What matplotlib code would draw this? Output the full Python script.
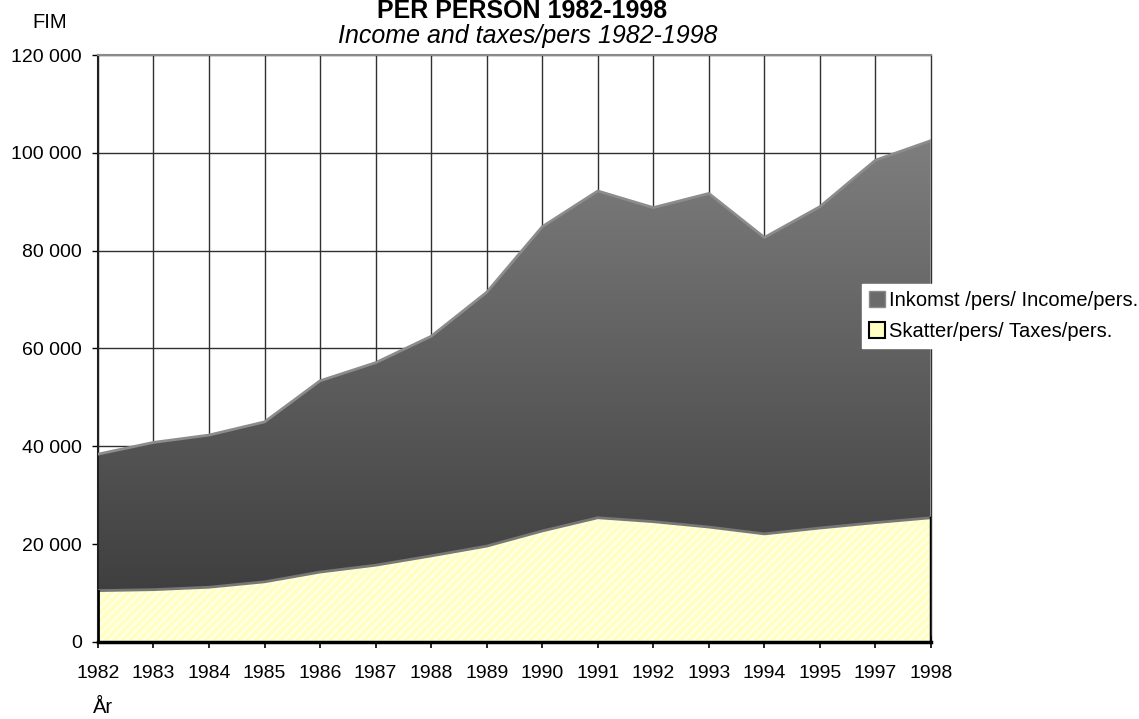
import matplotlib.pyplot as plt
import numpy as np
from matplotlib.colors import LinearSegmentedColormap
from matplotlib.patches import Polygon, Patch

plt.rcParams['font.family'] = ['Liberation Sans', 'DejaVu Sans']

# data
years = ['1982', '1983', '1984', '1985', '1986', '1987', '1988', '1989',
         '1990', '1991', '1992', '1993', '1994', '1995', '1997', '1998']
income = [38400, 40800, 42300, 45000, 53400, 57100, 62500, 71500,
          84900, 92200, 88800, 91700, 82700, 89000, 98500, 102500]
taxes = [10500, 10700, 11200, 12300, 14300, 15700, 17600, 19600,
         22700, 25400, 24600, 23500, 22100, 23300, 24400, 25400]
yticks = [0, 20000, 40000, 60000, 80000, 100000, 120000]

fig = plt.figure(figsize=(11.39, 7.19), dpi=100)
ax = fig.add_axes([0.0860, 0.1071, 0.7314, 0.8164])

x = np.arange(len(years))
ax.set_xlim(0, len(years) - 1)
ax.set_ylim(0, 120000)

# gitter
for xi in x:
    ax.axvline(xi, color='#303030', lw=1, zorder=0, clip_on=False)
for yv in yticks:
    ax.axhline(yv, color='#303030', lw=1, zorder=0)

# inkomst: gradient klippt till ytan
verts = [(x[0], 0)] + list(zip(x, income)) + [(x[-1], 0)]
poly = Polygon(verts, closed=True, facecolor='none', edgecolor='none', transform=ax.transData)
ax.add_patch(poly)
cmap = LinearSegmentedColormap.from_list('g', ['#383838', '#8a8a8a'])
grad = np.linspace(0, 1, 256).reshape(-1, 1)
im = ax.imshow(grad, extent=[x[0], x[-1], 0, 120000], origin='lower', cmap=cmap,
               aspect='auto', zorder=2)
im.set_clip_path(poly)
ax.plot(x, income, color='#8c8c8c', lw=2, zorder=3)
ax.plot([x[-1], x[-1]], [0, income[-1]], color='#9a9a9a', lw=2, zorder=3)

# skatter: gul med vita ränder
ax.fill_between(x, 0, taxes, facecolor='#FFFFC2', edgecolor='none', lw=0, zorder=4)
plt.rcParams['hatch.linewidth'] = 1.6
ax.fill_between(x, 0, taxes, facecolor='none', edgecolor='#FFFFEA', hatch='////', lw=0, zorder=4)
ax.plot(x, taxes, color='#777777', lw=2, zorder=5)
ax.plot([x[0], x[0]], [0, taxes[0]], color='black', lw=2, zorder=5)
ax.plot([x[-1], x[-1]], [0, taxes[-1]], color='black', lw=2.5, zorder=5)

ax.set_xticks(x)
ax.set_xticklabels(years)
ax.set_yticks(yticks)
ax.set_yticklabels([f'{v:,}'.replace(',', ' ') for v in yticks])
ax.tick_params(axis='x', direction='inout', length=9, width=1.2, pad=12, labelsize=14)
ax.tick_params(axis='y', direction='out', length=4.5, width=1, pad=7, labelsize=14)

ax.spines['top'].set_color('#8a8a8a')
ax.spines['top'].set_linewidth(1.5)
ax.spines['right'].set_visible(False)
ax.spines['left'].set_color('#202020')
ax.spines['left'].set_linewidth(1.5)
ax.spines['bottom'].set_linewidth(2.5)
ax.spines['bottom'].set_zorder(6)

fig.text(0.458, 1 - 18 / 719, 'PER PERSON 1982-1998', ha='center', va='baseline',
         fontsize=18, fontweight='bold')
fig.text(0.463, 1 - 43 / 719, 'Income and taxes/pers 1982-1998', ha='center', va='baseline',
         fontsize=18, style='italic')
fig.text(50 / 1139, 1 - 23 / 719, 'FIM', ha='center', va='center', fontsize=14.5)
fig.text(93 / 1139, 1 - 713 / 719, 'År', ha='left', va='baseline', fontsize=14.5)

handles = [Patch(facecolor='#6a6a6a', edgecolor='#8a8a8a', lw=1),
           Patch(facecolor='#FFFFC2', edgecolor='black', lw=1.5)]
leg = fig.legend(handles, ['Inkomst /pers/ Income/pers.', 'Skatter/pers/ Taxes/pers.'],
                 loc='upper left', bbox_to_anchor=(862 / 1139, 1 - 284 / 719),
                 fontsize=14.5, frameon=True, fancybox=False, framealpha=1,
                 edgecolor='white', facecolor='white', handlelength=0.8,
                 handleheight=0.8, handletextpad=0.2, labelspacing=0.6,
                 borderpad=0.35, borderaxespad=0)

fig.savefig('out.png', dpi=100)
